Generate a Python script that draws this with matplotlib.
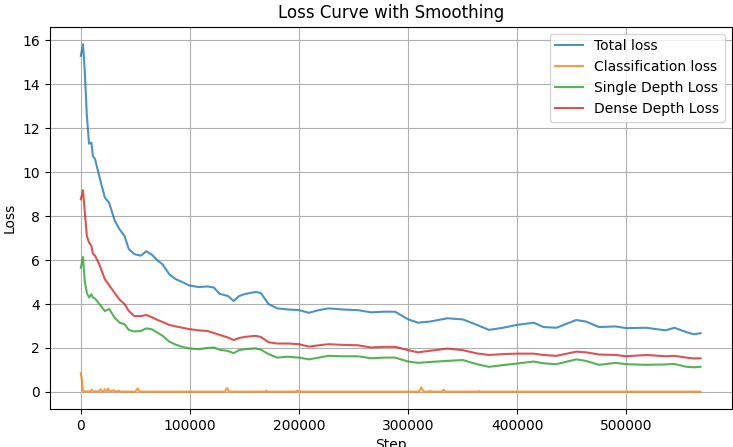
import matplotlib
matplotlib.use("Agg")
import matplotlib.pyplot as plt

# Shared step grid for the smoothed depth / total curves
steps = [0, 2000, 3600, 5500, 7500, 9700, 11000, 13000, 17000, 22000,
         26000, 31000, 35500, 40000, 44000, 49000, 55000, 60000, 65000, 70000,
         75000, 81000, 87000, 93000, 99000, 108000, 116000, 122000, 127000, 135000,
         140000, 145000, 150000, 160000, 165000, 172000, 180000, 190000, 200000, 209000,
         218000, 227000, 240000, 254000, 266000, 278000, 288000, 300000, 309000, 320000,
         336000, 350000, 363000, 374000, 387000, 400000, 415000, 424000, 436000, 454000,
         463000, 475000, 490000, 500000, 518000, 536000, 544000, 555000, 562000, 568000]

total_loss = [15.3, 15.83, 14.6, 12.6, 11.3, 11.35, 10.75, 10.6, 9.8, 8.85,
              8.6, 7.8, 7.4, 7.1, 6.5, 6.27, 6.2, 6.4, 6.25, 6.0,
              5.8, 5.36, 5.13, 5.0, 4.85, 4.77, 4.8, 4.75, 4.47, 4.36,
              4.14, 4.36, 4.45, 4.55, 4.5, 4.0, 3.8, 3.75, 3.72, 3.6,
              3.72, 3.8, 3.75, 3.72, 3.62, 3.65, 3.65, 3.3, 3.15, 3.2,
              3.35, 3.3, 3.05, 2.82, 2.92, 3.05, 3.15, 2.95, 2.92, 3.27,
              3.2, 2.95, 2.98, 2.9, 2.92, 2.8, 2.92, 2.72, 2.62, 2.67]

dense_depth = [8.77, 9.18, 8.2, 7.1, 6.8, 6.64, 6.3, 6.2, 5.8, 5.13,
               4.85, 4.5, 4.2, 4.0, 3.68, 3.45, 3.45, 3.5, 3.4, 3.28,
               3.18, 3.05, 2.98, 2.92, 2.86, 2.8, 2.77, 2.68, 2.6, 2.47,
               2.36, 2.45, 2.5, 2.55, 2.5, 2.26, 2.2, 2.2, 2.17, 2.06,
               2.12, 2.17, 2.14, 2.12, 2.02, 2.05, 2.05, 1.9, 1.8, 1.87,
               1.97, 1.9, 1.75, 1.68, 1.72, 1.74, 1.74, 1.68, 1.64, 1.83,
               1.8, 1.7, 1.68, 1.62, 1.68, 1.62, 1.64, 1.56, 1.52, 1.53]

single_depth = [5.65, 6.14, 5.05, 4.5, 4.3, 4.44, 4.3, 4.25, 4.0, 3.68,
                3.77, 3.38, 3.15, 3.08, 2.82, 2.75, 2.77, 2.89, 2.85, 2.7,
                2.55, 2.29, 2.15, 2.05, 1.98, 1.94, 2.0, 2.02, 1.92, 1.86,
                1.76, 1.9, 1.94, 1.98, 1.92, 1.72, 1.56, 1.6, 1.56, 1.48,
                1.56, 1.64, 1.62, 1.62, 1.53, 1.56, 1.56, 1.38, 1.32, 1.36,
                1.41, 1.45, 1.26, 1.14, 1.22, 1.29, 1.38, 1.3, 1.26, 1.48,
                1.41, 1.23, 1.32, 1.26, 1.23, 1.25, 1.27, 1.14, 1.12, 1.14]

# Classification loss drops to ~0 almost immediately, with a few spikes
cls_steps = [0, 800, 1800, 3000, 9000, 10000, 11500, 17000, 18000, 19500,
             21000, 22000, 23500, 25000, 26000, 27500, 30000, 31000, 33000, 35000,
             36000, 50000, 52000, 54000, 132000, 134000, 136000, 169000, 170000, 171000,
             197000, 198500, 200000, 310000, 312000, 314000, 319000, 320000, 321000, 331000,
             332500, 334000, 364000, 365000, 366000, 568000]
cls_loss = [0.85, 0.6, 0.05, 0.02, 0.02, 0.1, 0.02, 0.02, 0.12, 0.02,
            0.02, 0.12, 0.02, 0.15, 0.03, 0.02, 0.08, 0.02, 0.02, 0.05,
            0.01, 0.01, 0.15, 0.01, 0.01, 0.17, 0.01, 0.01, 0.05, 0.01,
            0.01, 0.06, 0.01, 0.01, 0.2, 0.01, 0.01, 0.05, 0.01, 0.01,
            0.1, 0.01, 0.01, 0.04, 0.01, 0.01]

fig = plt.figure(figsize=(7.33, 4.47), dpi=100)
ax = fig.add_axes([0.068, 0.085, 0.93, 0.855])

ax.plot(steps, total_loss, label='Total loss', alpha=0.8, lw=1.5)
ax.plot(cls_steps, cls_loss, label='Classification loss', alpha=0.8, lw=1.5)
ax.plot(steps, single_depth, label='Single Depth Loss', alpha=0.8, lw=1.5)
ax.plot(steps, dense_depth, label='Dense Depth Loss', alpha=0.8, lw=1.5)

ax.set_title('Loss Curve with Smoothing')
ax.set_xlabel('Step')
ax.set_ylabel('Loss')
ax.grid(True)
ax.legend(loc='upper right')

fig.savefig('out.png', dpi=100)
